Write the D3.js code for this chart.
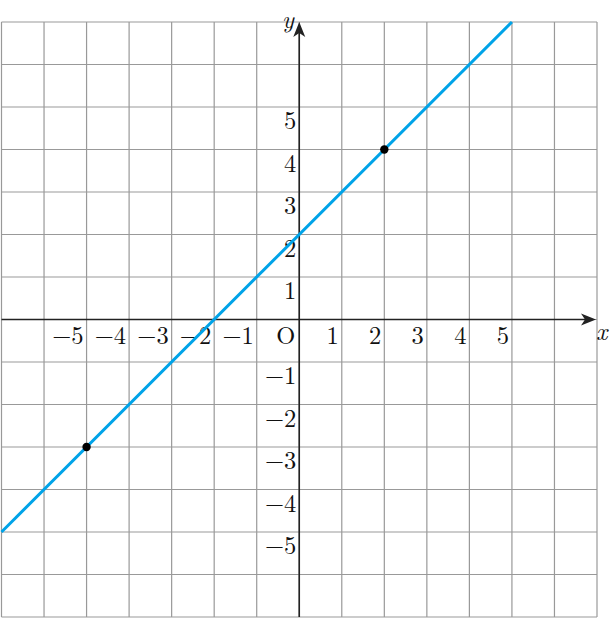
<!DOCTYPE html>
<html><head><meta charset="utf-8">
<script src="https://cdn.jsdelivr.net/npm/d3@7"></script>
<style>body{margin:0;background:#fff}svg{display:block}</style>
</head><body>
<svg id="c" width="611" height="618"></svg>
<script>
const gridRange = [-7, 7];
const xTicks = [-5, -4, -3, -2, -1, 1, 2, 3, 4, 5];
const yTicks = [-5, -4, -3, -2, -1, 1, 2, 3, 4, 5];
const lineX = [-7, 5];
const slope = 1, intercept = 2;
const points = [[-5, -3], [2, 4]];

const svg = d3.select("#c");
const x = d3.scaleLinear().domain(gridRange).range([1.5, 597]);
const y = d3.scaleLinear().domain(gridRange).range([617, 22]);
const gridVals = d3.range(gridRange[0], gridRange[1] + 1);

const g = svg.append("g");
g.selectAll(".v").data(gridVals).join("line")
  .attr("x1", d => x(d)).attr("x2", d => x(d))
  .attr("y1", y(7)).attr("y2", y(-7))
  .attr("stroke", "#999").attr("stroke-width", 1.2);
g.selectAll(".h").data(gridVals).join("line")
  .attr("y1", d => y(d)).attr("y2", d => y(d))
  .attr("x1", x(-7)).attr("x2", x(7))
  .attr("stroke", "#999").attr("stroke-width", 1.2);

svg.append("line").attr("x1", x(-7)).attr("x2", x(7) - 6).attr("y1", y(0)).attr("y2", y(0))
  .attr("stroke", "#222").attr("stroke-width", 1.6);
svg.append("line").attr("x1", x(0)).attr("x2", x(0)).attr("y1", y(-7)).attr("y2", y(7) + 6)
  .attr("stroke", "#222").attr("stroke-width", 1.6);
const ax = x(7) - 1, ay = y(0);
svg.append("path").attr("d", `M${ax},${ay} L${ax-15},${ay-6} L${ax-11},${ay} L${ax-15},${ay+6} Z`).attr("fill", "#222");
const bx = x(0), by = y(7);
svg.append("path").attr("d", `M${bx},${by} L${bx-6},${by+15} L${bx},${by+11} L${bx+6},${by+15} Z`).attr("fill", "#222");

const font = "'Latin Modern Roman','Liberation Serif','DejaVu Serif',serif";
const fmt = d => d < 0 ? "\u2212" + Math.abs(d) : String(d);
const fs = 24.5;

svg.selectAll(".xl").data(xTicks).join("text")
  .attr("x", d => x(d) - 3).attr("y", y(0) + 24)
  .attr("text-anchor", "end").attr("font-family", font).attr("font-size", fs)
  .attr("fill", "#111").text(fmt);
svg.selectAll(".yl").data(yTicks).join("text")
  .attr("x", x(0) - 3).attr("y", d => y(d) + 22)
  .attr("text-anchor", "end").attr("font-family", font).attr("font-size", fs)
  .attr("fill", "#111").text(fmt);
svg.append("text").attr("x", x(0) - 4).attr("y", y(0) + 24)
  .attr("text-anchor", "end").attr("font-family", font).attr("font-size", fs)
  .attr("fill", "#111").text("O");
svg.append("text").attr("x", 596).attr("y", 340)
  .attr("font-family", font).attr("font-style", "italic").attr("font-size", fs)
  .attr("fill", "#111").text("x");
svg.append("text").attr("x", 282).attr("y", 28)
  .attr("font-family", font).attr("font-style", "italic").attr("font-size", fs)
  .attr("fill", "#111").text("y");

const lineData = lineX.map(v => [v, slope * v + intercept]);
svg.append("path").datum(lineData)
  .attr("d", d3.line().x(d => x(d[0])).y(d => y(d[1])))
  .attr("stroke", "#00a3e8").attr("stroke-width", 3).attr("fill", "none");

svg.selectAll(".pt").data(points).join("circle")
  .attr("cx", d => x(d[0])).attr("cy", d => y(d[1])).attr("r", 4.2).attr("fill", "#000");
</script>
</body></html>
